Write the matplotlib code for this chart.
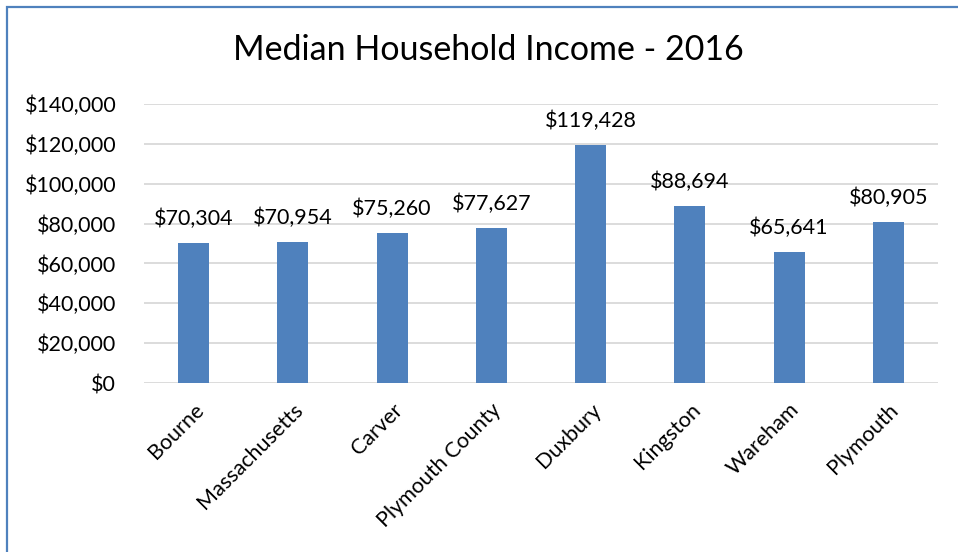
import matplotlib
matplotlib.use("Agg")
import matplotlib.pyplot as plt
from matplotlib.patches import Rectangle
from matplotlib.ticker import FuncFormatter

places = ["Bourne", "Massachusetts", "Carver", "Plymouth County",
          "Duxbury", "Kingston", "Wareham", "Plymouth"]
income = [70304, 70954, 75260, 77627, 119428, 88694, 65641, 80905]
yticks = [0, 20000, 40000, 60000, 80000, 100000, 120000, 140000]

plt.rcParams['font.family'] = ['Lato', 'DejaVu Sans']

fig = plt.figure(figsize=(9.58, 5.52), dpi=100)
# chart frame (extends past the right and bottom edges like the screenshot)
fig.patches.append(Rectangle((7 / 958, -0.1), 1.2, 1 - 7 / 552 + 0.1,
                             transform=fig.transFigure, fill=False,
                             edgecolor="#4F81BD", linewidth=1.6))

ax = fig.add_axes([144 / 958, 1 - 383 / 552, (938 - 144) / 958, (383 - 104) / 552])
x = range(len(places))
bars = ax.bar(x, income, width=0.31, color="#4F81BD", zorder=3)
for b, v in zip(bars, income):
    ax.annotate(f"${v:,}", (b.get_x() + b.get_width() / 2, v),
                xytext=(0, 10), textcoords="offset points",
                ha="center", va="bottom", fontsize=15.5, color="#000000")

ax.set_xlim(-0.5, len(places) - 0.5)
ax.set_ylim(0, 140000)
ax.set_yticks(yticks)
ax.yaxis.set_major_formatter(FuncFormatter(lambda v, p: f"${int(v):,}"))
ax.grid(axis="y", color="#D9D9D9", linewidth=1.3, zorder=0)
for s in ax.spines.values():
    s.set_visible(False)
ax.tick_params(axis="both", length=0, labelsize=15.5, colors="#000000")
ax.tick_params(axis="y", pad=20)
ax.set_xticks(list(x))
ax.set_xticklabels(places, rotation=45, ha="right", rotation_mode="anchor")
ax.tick_params(axis="x", pad=12)

fig.text(488 / 958, 1 - 50 / 552, "Median Household Income - 2016",
         ha="center", va="center", fontsize=24.5)

fig.savefig("out.png", dpi=100)
